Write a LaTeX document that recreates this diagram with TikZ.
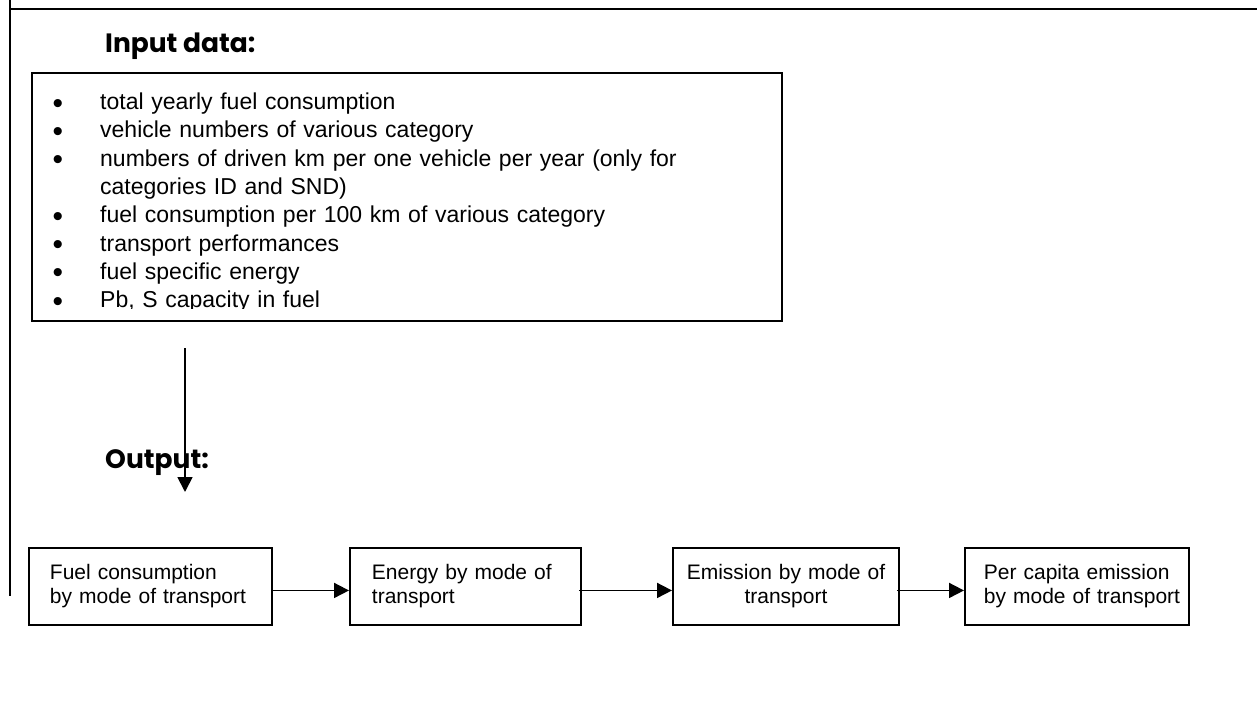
\documentclass[tikz,border=0pt]{standalone}
\usepackage{fontspec}
\setmainfont{Liberation Sans}
\newfontfamily\headfont{Poppins}
\usetikzlibrary{arrows.meta}
\newcommand{\blt}{\makebox[45pt][l]{\hspace{-2.5pt}\raisebox{-3.5pt}{\scalebox{1.3}{\textbullet}}}}
\begin{document}
\begin{tikzpicture}[x=1pt,y=-1pt,
  rule/.style={line width=1.8pt},
  flowbox/.style={draw,line width=1.9pt,anchor=north west,minimum height=77pt,inner ysep=0pt,font=\fontsize{21}{24}\selectfont},
  head/.style={anchor=base west,inner sep=0pt,font=\headfont\bfseries\fontsize{26.5}{30}\selectfont},
  conn/.style={line width=1.8pt,-{Triangle[length=15pt,width=15pt]}}
]
\useasboundingbox (0,0) rectangle (1257,708);
% page frame lines
\draw[line width=2.4pt] (11,9) -- (1257,9);
\draw[rule] (10,0) -- (10,596);
% titles
\node[head] (tin) at (105,52.5) {Input data:};
\node[head] (tout) at (105,468.5) {Output:};
% input list (clipped at the bottom like the reference)
\begin{scope}
\clip (31,72) rectangle (781,308.5);
\node[anchor=north west,minimum height=248pt,inner xsep=24pt,inner ysep=0pt,text width=702pt,align=left,
  font=\fontsize{23}{28.3}\selectfont] (inlist) at (31,78.5) {%
\blt total yearly fuel consumption\\
\blt vehicle numbers of various category\\
\blt numbers of driven km per one vehicle per year (only for\\
\makebox[45pt][l]{}categories ID and SND)\\
\blt fuel consumption per 100 km of various category\\
\blt transport performances\\
\blt fuel specific energy\\
\blt Pb, S capacity in fuel};
\end{scope}
\node[draw,line width=1.9pt,anchor=north west,minimum width=750pt,minimum height=248pt,inner sep=0pt] (inbox) at (31,72) {};
% flow boxes
\node[flowbox,inner xsep=21pt,text width=201pt,align=left] (b1) at (28,547) {Fuel consumption\\by mode of transport};
\node[flowbox,inner xsep=22pt,text width=187pt,align=left] (b2) at (349,547) {Energy by mode of\\transport};
\node[flowbox,inner xsep=10pt,text width=206pt,align=center] (b3) at (672,547) {Emission by mode of\\transport};
\node[flowbox,inner xsep=19pt,text width=186pt,align=left] (b4) at (964,547) {Per capita emission\\\mbox{by mode of transport}};
% vertical arrow
\coordinate (dstart) at (185,348);
\coordinate (dend) at (185,492);
\draw[conn] (dstart) -- (dend);
% horizontal connectors
\draw[conn] ([yshift=-4pt]b1.east) -- ([yshift=-4pt]b2.west);
\draw[conn] ([xshift=-3pt,yshift=-4pt]b2.east) -- ([yshift=-4pt]b3.west);
\draw[conn] ([xshift=-3pt,yshift=-4pt]b3.east) -- ([yshift=-4pt]b4.west);
\end{tikzpicture}
\end{document}
